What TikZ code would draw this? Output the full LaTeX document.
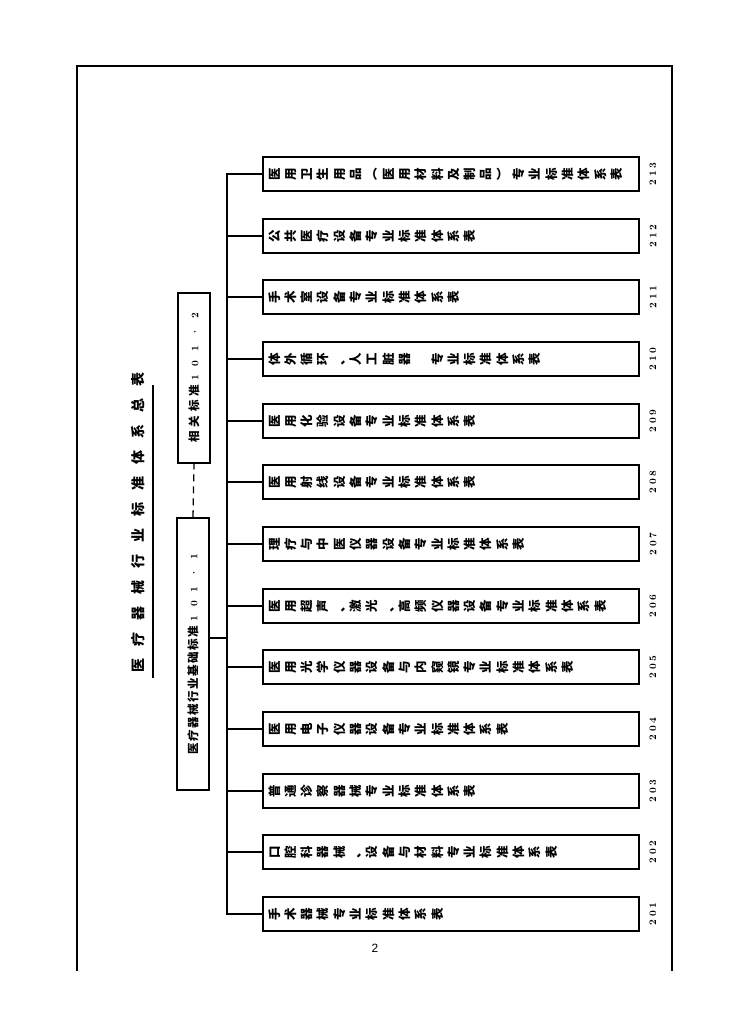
\documentclass[tikz,border=0pt]{standalone}
\usepackage{fontspec}
\usepackage{graphicx}
\newfontfamily\cjk{Noto Sans CJK SC}
\newfontfamily\arial{Liberation Sans}
\ExplSyntaxOn
\NewDocumentCommand\gapped{O{4pt}m}{\tl_map_inline:nn{#2}{##1\hspace{#1}}\unskip}
\NewDocumentCommand\sidechars{O{4pt}m}{\tl_map_inline:nn{#2}{\rotatebox{90}{\raisebox{0pt}[0.88em][0.12em]{##1}}\hspace{#1}}\unskip}
\ExplSyntaxOff

\begin{document}
\begin{tikzpicture}[x=1pt, y=-1pt,
    frame/.style={line width=2.6pt},
    link/.style={line width=1.3pt},
    cbox/.style={draw, line width=1.3pt, minimum height=34, text width=366, inner xsep=5, align=left, font=\cjk\bfseries\fontsize{12.5}{13}\selectfont},
    rbox/.style={draw, line width=1.3pt, minimum width=32, inner sep=2, font=\cjk\bfseries\fontsize{11.5}{12}\selectfont},
    num/.style={rotate=90, inner sep=1, font=\fontsize{10}{10}\selectfont\bfseries},
    title/.style={rotate=90, inner sep=1, font=\cjk\bfseries\fontsize{14}{14}\selectfont}]
    \useasboundingbox (0,0) rectangle (752,1024);
    \draw[frame] (77,971) -- (77,66) -- (672,66) -- (672,971);

    \node[title] (title) at (138,522) {\gapped[12pt]{医疗器械行业标准体系总表}};
    \draw[link] (153,385) -- (153,678);

    \node[rbox, minimum height=272] (base) at (193,654) {\rotatebox{90}{\gapped[1.5pt]{医疗器械行业基础标准}\hspace{4pt}{\rmfamily\bfseries\fontsize{10}{10}\selectfont\gapped[9pt]{101·1}}}};
    \node[rbox, minimum height=170] (related) at (194,378) {\rotatebox{90}{\gapped[4pt]{相关标准}\hspace{4pt}{\rmfamily\bfseries\fontsize{10}{10}\selectfont\gapped[9pt]{101·2}}}};

    \node[cbox] (c213) at (451,174) {\sidechars[3.8pt]{医用卫生用品︵医用材料及制品︶专业标准体系表}};
    \node[cbox] (c212) at (451,236) {\sidechars[3.8pt]{公共医疗设备专业标准体系表}};
    \node[cbox] (c211) at (451,297) {\sidechars[3.8pt]{手术室设备专业标准体系表}};
    \node[cbox] (c210) at (451,359) {\sidechars[3.8pt]{体外循环、人工脏器　专业标准体系表}};
    \node[cbox] (c209) at (451,421) {\sidechars[3.8pt]{医用化验设备专业标准体系表}};
    \node[cbox] (c208) at (451,482) {\sidechars[3.8pt]{医用射线设备专业标准体系表}};
    \node[cbox] (c207) at (451,544) {\sidechars[3.8pt]{理疗与中医仪器设备专业标准体系表}};
    \node[cbox] (c206) at (451,606) {\sidechars[3.8pt]{医用超声、激光、高频仪器设备专业标准体系表}};
    \node[cbox] (c205) at (451,667) {\sidechars[3.8pt]{医用光学仪器设备与内窥镜专业标准体系表}};
    \node[cbox] (c204) at (451,729) {\sidechars[3.8pt]{医用电子仪器设备专业标准体系表}};
    \node[cbox] (c203) at (451,791) {\sidechars[3.8pt]{普通诊察器械专业标准体系表}};
    \node[cbox] (c202) at (451,852) {\sidechars[3.8pt]{口腔科器械、设备与材料专业标准体系表}};
    \node[cbox] (c201) at (451,914) {\sidechars[3.8pt]{手术器械专业标准体系表}};

    \node[num] (n213) at (653,174) {\gapped[3pt]{213}};
    \node[num] (n212) at (653,236) {\gapped[3pt]{212}};
    \node[num] (n211) at (653,297) {\gapped[3pt]{211}};
    \node[num] (n210) at (653,359) {\gapped[3pt]{210}};
    \node[num] (n209) at (653,421) {\gapped[3pt]{209}};
    \node[num] (n208) at (653,482) {\gapped[3pt]{208}};
    \node[num] (n207) at (653,544) {\gapped[3pt]{207}};
    \node[num] (n206) at (653,606) {\gapped[3pt]{206}};
    \node[num] (n205) at (653,667) {\gapped[3pt]{205}};
    \node[num] (n204) at (653,729) {\gapped[3pt]{204}};
    \node[num] (n203) at (653,791) {\gapped[3pt]{203}};
    \node[num] (n202) at (653,852) {\gapped[3pt]{202}};
    \node[num] (n201) at (653,914) {\gapped[3pt]{201}};

    \node[font=\arial\fontsize{12}{12}\selectfont] (pageno) at (375,948) {2};

    \coordinate (trunk) at (227,0);
    \coordinate (baselink) at ([yshift=16pt]base.east);
    \draw[link, dash pattern=on 7pt off 5pt] (base.north) -- (related.south);
    \draw[link] (baselink) -- (baselink -| trunk);
    \draw[link] (c213.west) -- (c213.west -| trunk) -- (c201.west -| trunk) -- (c201.west);
    \draw[link] (c212.west) -- (c212.west -| trunk);
    \draw[link] (c211.west) -- (c211.west -| trunk);
    \draw[link] (c210.west) -- (c210.west -| trunk);
    \draw[link] (c209.west) -- (c209.west -| trunk);
    \draw[link] (c208.west) -- (c208.west -| trunk);
    \draw[link] (c207.west) -- (c207.west -| trunk);
    \draw[link] (c206.west) -- (c206.west -| trunk);
    \draw[link] (c205.west) -- (c205.west -| trunk);
    \draw[link] (c204.west) -- (c204.west -| trunk);
    \draw[link] (c203.west) -- (c203.west -| trunk);
    \draw[link] (c202.west) -- (c202.west -| trunk);
\end{tikzpicture}
\end{document}
